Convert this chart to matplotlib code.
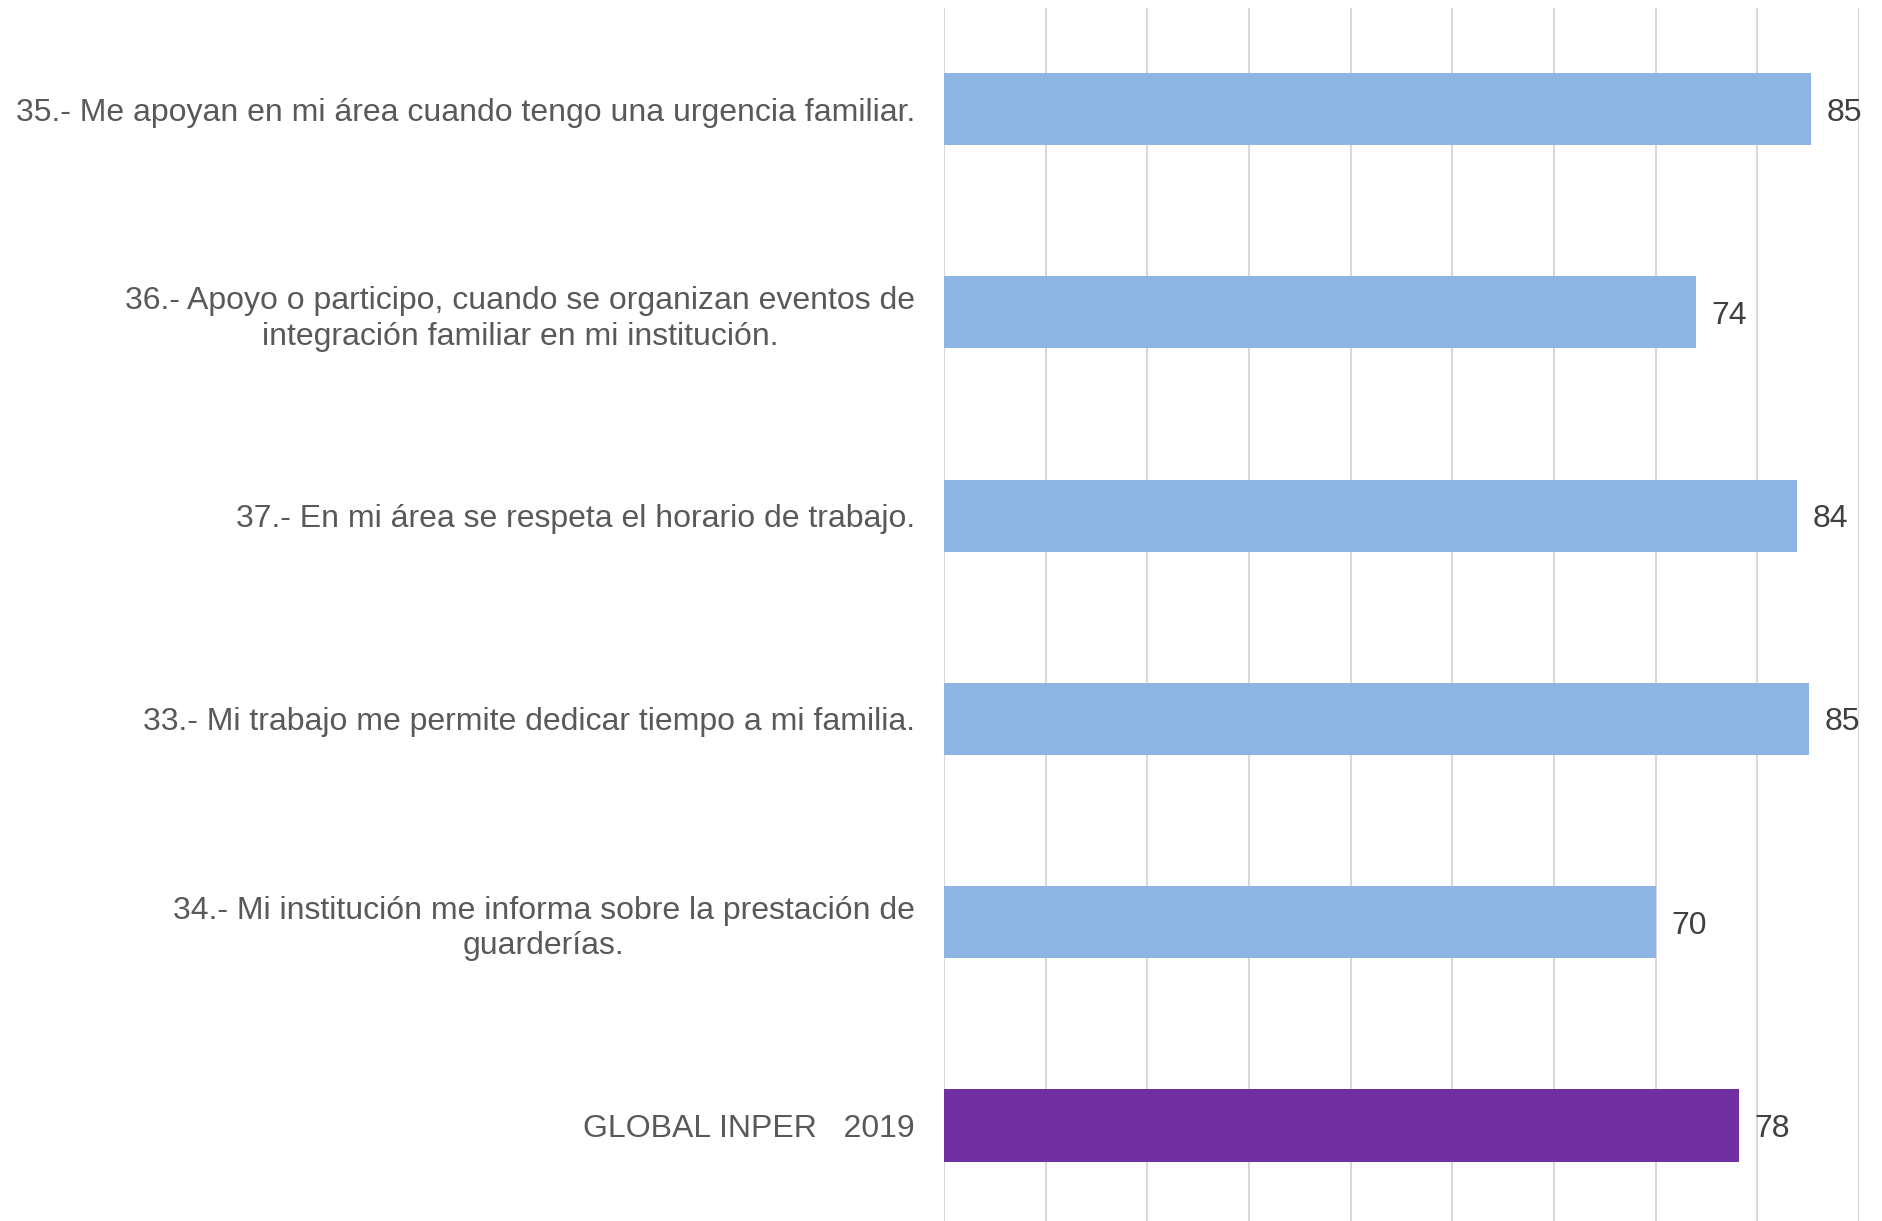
import matplotlib
matplotlib.use("Agg")
import matplotlib.pyplot as plt
import numpy as np

categories = [
    "35.- Me apoyan en mi área cuando tengo una urgencia familiar.",
    "36.- Apoyo o participo, cuando se organizan eventos de\nintegración familiar en mi institución.",
    "37.- En mi área se respeta el horario de trabajo.",
    "33.- Mi trabajo me permite dedicar tiempo a mi familia.",
    "34.- Mi institución me informa sobre la prestación de\nguarderías.",
    "GLOBAL INPER   2019",
]
values = [85.3, 74.0, 83.9, 85.1, 70.0, 78.2]
bar_colors = ["#8EB4E3", "#8EB4E3", "#8EB4E3", "#8EB4E3", "#8EB4E3", "#7030A0"]
xticks = list(range(0, 100, 10))

plt.rcParams['font.family'] = ['Liberation Sans', 'DejaVu Sans']

fig = plt.figure(figsize=(18.83, 12.21), dpi=100)
ax = fig.add_axes([944/1883, 0.0, (1859-944)/1883, 1 - 8/1221])

y = np.arange(len(categories))
ax.barh(y, values, height=0.355, color=bar_colors, zorder=3)

ax.set_xlim(0, 90)
ax.set_ylim(5.47, -0.497)
ax.set_xticks(xticks)
ax.set_xticklabels([])
ax.tick_params(axis='x', length=0)
ax.grid(axis='x', color='#D9D9D9', linewidth=1.5, zorder=0)
for s in ax.spines.values():
    s.set_visible(False)

ax.set_yticks(y)
ax.set_yticklabels(categories, fontsize=23, color='#595959', multialignment='center',
                   linespacing=1.25)
ax.tick_params(axis='y', length=0, pad=21)

for yi, v in zip(y, values):
    ax.text(v + 1.5, yi, f"{v:.0f}", va='center_baseline', ha='left', fontsize=23,
            color='#404040', zorder=4)

fig.savefig("out.png", dpi=100)
